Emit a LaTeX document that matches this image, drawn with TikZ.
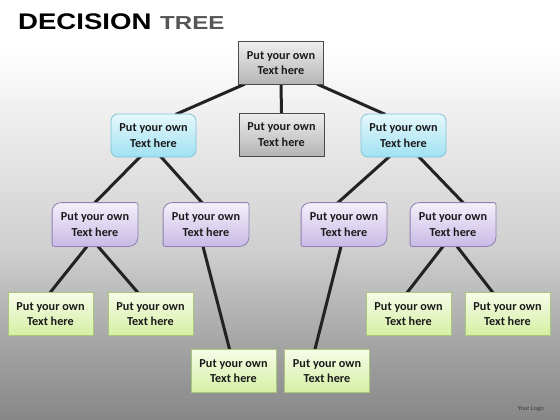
\documentclass[tikz,border=0pt]{standalone}
\usepackage{fontspec}
\usepackage{graphicx}
\setmainfont{Carlito}
\newfontfamily\titlefont{Liberation Sans}
\usetikzlibrary{calc}
\pgfdeclarelayer{bg}\pgfdeclarelayer{lines}\pgfdeclarelayer{shapes}
\pgfsetlayers{bg,lines,shapes,main}
\definecolor{grayT}{HTML}{EEEEEE}
\definecolor{grayB}{HTML}{B4B4B4}
\definecolor{grayD}{HTML}{4A4A4A}
\definecolor{blueT}{HTML}{E6F8FC}
\definecolor{blueB}{HTML}{A0E1F2}
\definecolor{blueD}{HTML}{7FC4D6}
\definecolor{purpT}{HTML}{F4EFFA}
\definecolor{purpB}{HTML}{C9BAE6}
\definecolor{purpD}{HTML}{8E80B0}
\definecolor{greenT}{HTML}{F7FCE8}
\definecolor{greenB}{HTML}{D5EFA4}
\definecolor{greenD}{HTML}{A9C67A}
\definecolor{conn}{HTML}{222222}
\definecolor{txt}{HTML}{1A1A1A}
\definecolor{bgA}{HTML}{F2F2F2}
\definecolor{bgB}{HTML}{CFCFCF}
\definecolor{bgC}{HTML}{A2A2A2}
\definecolor{bgD}{HTML}{878787}
\definecolor{titleGray}{HTML}{555555}
\tikzset{
  box/.style={minimum width=85pt, minimum height=43pt, inner sep=0pt, align=center,
    font=\bfseries\fontsize{12.2}{15.8}\selectfont, text=txt, line width=0.8pt},
  grayb/.style={box, draw=grayD, top color=grayT, bottom color=grayB},
  blueb/.style={box, draw=blueD, top color=blueT, bottom color=blueB, rounded corners=7pt},
  greenb/.style={box, draw=greenD, top color=greenT, bottom color=greenB},
  purpb/.style={box},
  purpshape/.style={draw=purpD, line width=0.8pt, top color=purpT, bottom color=purpB},
  conn/.style={draw=conn, line width=3pt, shorten <=-2pt, shorten >=-2pt}
}
\begin{document}
\begin{tikzpicture}[x=1pt,y=-1pt]
\useasboundingbox (0,0) rectangle (560,420);
\begin{pgfonlayer}{bg}
  \fill[white] (0,0) rectangle (560,50);
  \shade[top color=white, bottom color=bgA] (0,50) rectangle (560,100);
  \shade[top color=bgA, bottom color=bgB] (0,99.5) rectangle (560,250);
  \shade[top color=bgB, bottom color=bgC] (0,249.5) rectangle (560,350);
  \shade[top color=bgC, bottom color=bgD] (0,349.5) rectangle (560,420);
\end{pgfonlayer}

\node[anchor=base west, inner sep=0pt] (t1) at (18,30)
  {\scalebox{1.22}[1]{\titlefont\bfseries\fontsize{22.6}{24}\selectfont DECISION}};
\node[anchor=base west, inner sep=0pt, text=titleGray] (t2) at (160,30)
  {\scalebox{1.28}[1]{\titlefont\bfseries\fontsize{18.8}{20}\selectfont TREE}};
\node[anchor=base east, inner sep=0pt, text=txt!85, font=\fontsize{6.5}{7}\selectfont] (logo) at (544,410) {Your Logo};

\node[grayb] (top) at (281,63) {Put your own\\Text here};
\node[grayb] (mid) at (281.5,134.5) {Put your own\\Text here};
\node[blueb] (b1) at (153.5,135.5) {Put your own\\Text here};
\node[blueb] (b2) at (403.5,135.5) {Put your own\\Text here};
\node[purpb] (p1) at (95,224.5) {Put your own\\Text here};
\node[purpb] (p2) at (206,224.5) {Put your own\\Text here};
\node[purpb] (p3) at (344,224.5) {Put your own\\Text here};
\node[purpb] (p4) at (453,224.5) {Put your own\\Text here};
\node[greenb] (g1) at (50.5,314) {Put your own\\Text here};
\node[greenb] (g2) at (150.5,314) {Put your own\\Text here};
\node[greenb] (g3) at (408.5,314) {Put your own\\Text here};
\node[greenb] (g4) at (507.5,314) {Put your own\\Text here};
\node[greenb] (g5) at (233.5,371) {Put your own\\Text here};
\node[greenb] (g6) at (327,371) {Put your own\\Text here};

\begin{pgfonlayer}{shapes}
\foreach \n in {p1,p2,p3,p4}{
  \shade[purpshape] (\n.west) [rounded corners=9pt] -- (\n.north west) -- (\n.north)
    [rounded corners=2pt] -- (\n.north east) -- (\n.east)
    [rounded corners=9pt] -- (\n.south east) -- (\n.south)
    [rounded corners=2pt] -- (\n.south west) -- cycle;
}
\end{pgfonlayer}

\begin{pgfonlayer}{lines}
\draw[conn] ($(top.south)+(-38,0)$) -- ($(b1.north)+(24,0)$);
\draw[conn] ($(top.south)+(38,0)$) -- ($(b2.north)+(-20,0)$);
\draw[conn] (top.south) -- (mid.north);
\draw[conn] ($(b1.south)+(-14,0)$) -- (p1.north);
\draw[conn] ($(b1.south)+(8,0)$) -- ($(p2.north)+(-4,0)$);
\draw[conn] ($(b2.south)+(-15,0)$) -- ($(p3.north)+(-6,0)$);
\draw[conn] ($(b2.south)+(16,0)$) -- ($(p4.north)+(10,0)$);
\draw[conn] ($(p1.south)+(-8,0)$) -- (g1.north);
\draw[conn] ($(p1.south)+(3,0)$) -- ($(g2.north)+(-13,0)$);
\draw[conn] ($(p2.south)+(-3,0)$) -- ($(g5.north)+(-4,0)$);
\draw[conn] ($(p3.south)+(-3,0)$) -- ($(g6.north)+(-12,0)$);
\draw[conn] ($(p4.south)+(-10,0)$) -- ($(g3.north)+(-1,0)$);
\draw[conn] ($(p4.south)+(4,0)$) -- ($(g4.north)+(-15,0)$);
\end{pgfonlayer}
\end{tikzpicture}
\end{document}
